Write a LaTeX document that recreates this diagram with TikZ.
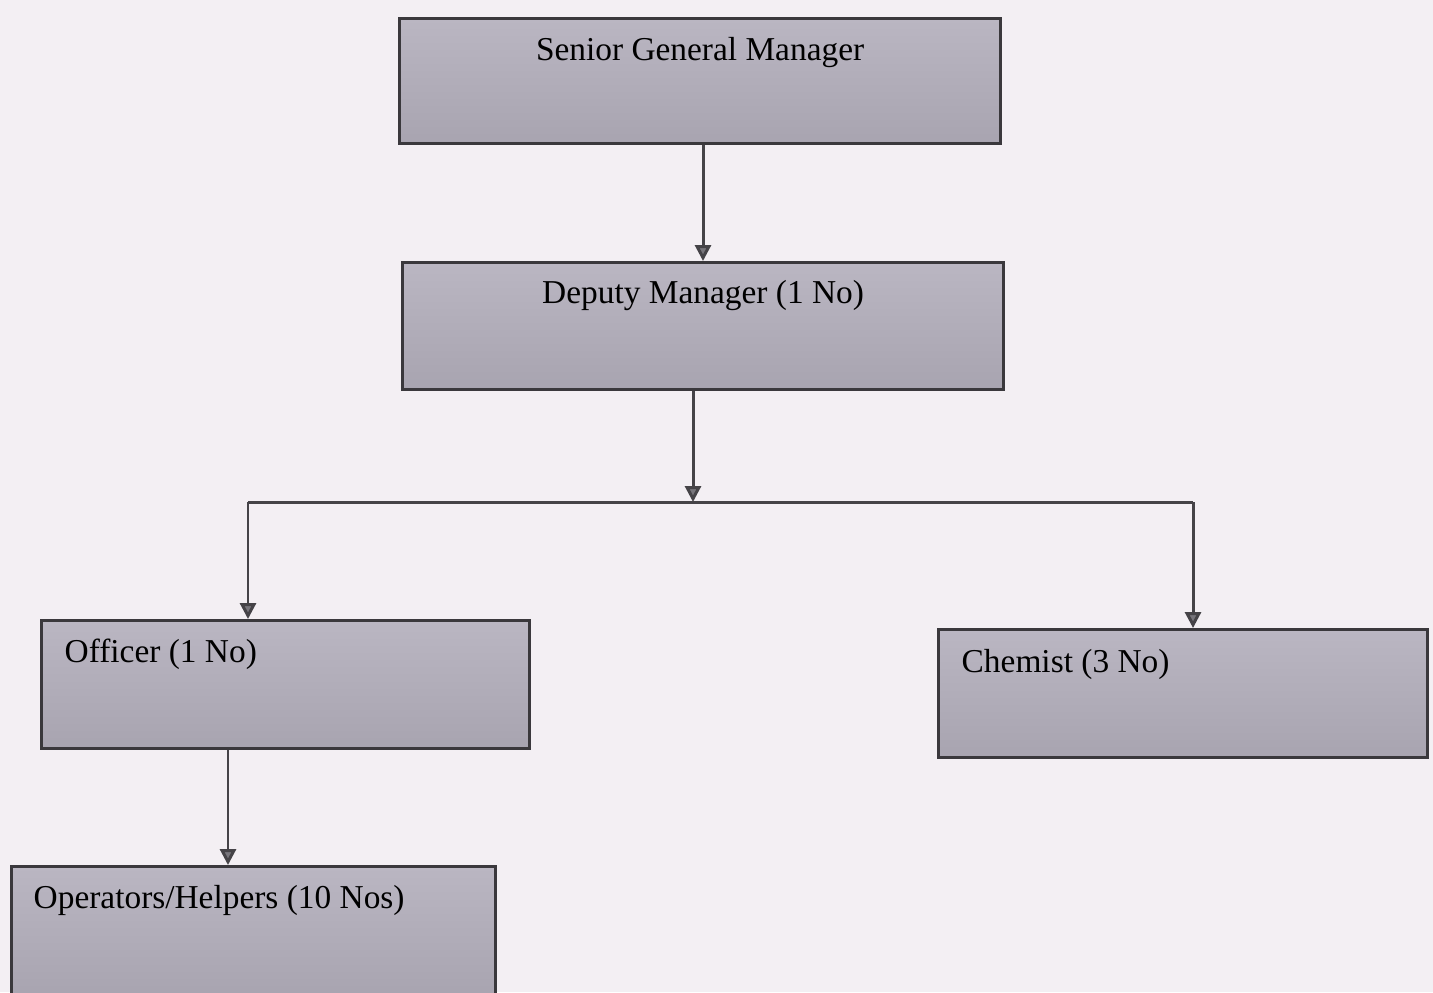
\documentclass[tikz,border=0pt]{standalone}
\usepackage{fontspec}
\setmainfont{Liberation Serif}
\usetikzlibrary{arrows.meta,calc}
\definecolor{bgcol}{HTML}{F3EFF3}
\definecolor{boxtop}{HTML}{BAB6C2}
\definecolor{boxbot}{HTML}{A8A4B0}
\definecolor{edgecol}{HTML}{3A383C}
\definecolor{linecol}{HTML}{454347}
\definecolor{tipcol}{HTML}{77757B}
\tikzset{
  orgbox/.style={draw=edgecol, line width=0.9pt, top color=boxtop, bottom color=boxbot,
    rectangle, inner sep=0pt, anchor=north west},
  conn/.style={draw=linecol, line width=0.85pt},
  arr/.style={conn, -{Triangle[width=1.6mm,length=1.6mm,fill=tipcol]}},
  lbl/.style={font=\fontsize{9.5}{11}\selectfont, inner sep=0pt, text=black}
}
\begin{document}
\begin{tikzpicture}
\fill[bgcol] (0,0) rectangle (14.33,-9.92);
\useasboundingbox (0,0) rectangle (14.33,-9.92);

\node[orgbox, minimum width=6.01cm, minimum height=1.25cm,
  label={[lbl, anchor=base, yshift=-0.43cm]north:Senior General Manager}] (sgm) at (3.98,-0.17) {};
\node[orgbox, minimum width=6.01cm, minimum height=1.27cm,
  label={[lbl, anchor=base, yshift=-0.42cm]north:Deputy Manager (1 No)}] (dm) at (4.01,-2.61) {};
\node[orgbox, minimum width=4.88cm, minimum height=1.28cm,
  label={[lbl, anchor=base west, xshift=0.24cm, yshift=-0.43cm]north west:Officer (1 No)}] (off) at (0.40,-6.19) {};
\node[orgbox, minimum width=4.89cm, minimum height=1.28cm,
  label={[lbl, anchor=base west, xshift=0.24cm, yshift=-0.44cm]north west:Chemist (3 No)}] (chem) at (9.37,-6.28) {};
\node[orgbox, minimum width=4.84cm, minimum height=1.30cm,
  label={[lbl, anchor=base west, xshift=0.23cm, yshift=-0.43cm]north west:Operators/Helpers (10 Nos)}] (ops) at (0.10,-8.65) {};

\coordinate (j) at (6.93,-5.02);
\coordinate (jl) at (2.48,-5.02);
\coordinate (jr) at (11.93,-5.02);

\draw[arr] (sgm.south -| 7.03,0) -- (dm.north -| 7.03,0);
\draw[arr] (dm.south -| j) -- (j);
\draw[conn] (jl) -- (jr);
\draw[arr] (jl) -- (jl |- off.north);
\draw[arr] (jr) -- (jr |- chem.north);
\draw[arr] (off.south -| 2.28,0) -- (ops.north -| 2.28,0);
\end{tikzpicture}
\end{document}
